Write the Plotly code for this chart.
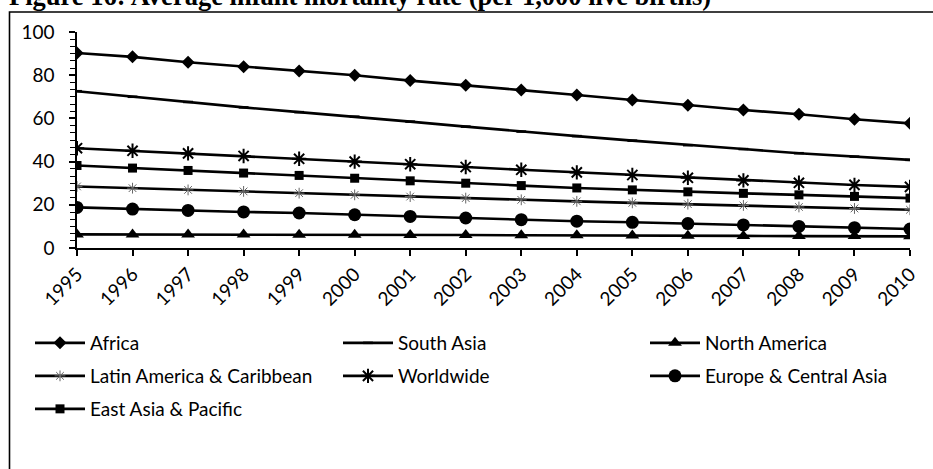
import plotly.graph_objects as go

# Average infant mortality rate (per 1,000 live births), 1995-2010
years = list(range(1995, 2011))
year_labels = [str(y) for y in years]

africa = [90.3, 88.5, 86.0, 83.9, 82.0, 80.0, 77.5, 75.4, 73.1, 70.8, 68.5, 66.1, 63.9, 61.9, 59.6, 57.7]
south_asia = [72.6, 70.0, 67.6, 65.1, 62.9, 60.8, 58.5, 56.2, 53.9, 51.8, 49.7, 47.6, 45.8, 43.9, 42.3, 40.8]
north_america = [6.3, 6.3, 6.2, 6.2, 6.1, 6.1, 6.0, 6.0, 5.9, 5.9, 5.8, 5.7, 5.6, 5.5, 5.5, 5.4]
latin_america = [28.5, 27.7, 26.9, 26.2, 25.4, 24.6, 23.8, 23.1, 22.3, 21.6, 20.9, 20.3, 19.7, 19.0, 18.3, 17.7]
worldwide = [46.2, 45.0, 43.8, 42.6, 41.3, 40.0, 38.8, 37.5, 36.2, 35.0, 33.8, 32.5, 31.3, 30.2, 29.2, 28.3]
europe_central_asia = [18.8, 18.0, 17.4, 16.7, 16.2, 15.4, 14.6, 13.9, 13.1, 12.4, 11.9, 11.3, 10.7, 10.0, 9.4, 8.8]
east_asia_pacific = [38.2, 37.0, 35.9, 34.7, 33.6, 32.3, 31.1, 30.0, 28.9, 27.8, 26.9, 26.0, 25.3, 24.6, 23.9, 23.1]

FONT = "Lato"
W, H = 933, 469
ML, MR, MT, MB = 77, 23, 32, 221
PW, PH = W - ML - MR, H - MT - MB


def px_x(px):
    return (px - ML) / PW


def px_y(py):
    return (H - MB - py) / PH


# legend grid: three columns, three rows under the axis
COLS = [30, 338, 645]
ROWS = [343, 376, 409]

series = [
    ("Africa", africa, dict(symbol="diamond", size=10, color="black"), (0, 0)),
    ("South Asia", south_asia, dict(symbol="line-ew-open", size=7, color="black",
                                     line=dict(width=2.5, color="black")), (1, 0)),
    ("North America", north_america, dict(symbol="triangle-up", size=12, color="black"), (2, 0)),
    ("Latin America & Caribbean", latin_america, dict(symbol="asterisk-open", size=9, color="#666",
                                                      line=dict(width=1, color="#666")), (0, 1)),
    ("Worldwide", worldwide, dict(symbol="asterisk-open", size=12, color="black",
                                  line=dict(width=2, color="black")), (1, 1)),
    ("Europe & Central Asia", europe_central_asia, dict(symbol="circle", size=13, color="black"), (2, 1)),
    ("East Asia & Pacific", east_asia_pacific, dict(symbol="square", size=9, color="black"), (0, 2)),
]

fig = go.Figure()
legends = {}
for i, (name, vals, marker, (col, row)) in enumerate(series):
    key = "legend" if i == 0 else f"legend{i + 1}"
    fig.add_trace(go.Scatter(
        x=years, y=vals, name=name, mode="lines+markers",
        line=dict(color="black", width=2.6),
        marker=marker, legend=key,
    ))
    legends[key] = dict(
        orientation="h", xanchor="left", yanchor="middle",
        x=px_x(COLS[col]), y=px_y(ROWS[row]),
        font=dict(family=FONT, size=19, color="black"),
        itemwidth=50, bgcolor="rgba(0,0,0,0)",
    )

fig.update_layout(
    width=W, height=H,
    margin=dict(l=ML, r=MR, t=MT, b=MB, pad=0),
    paper_bgcolor="white", plot_bgcolor="white",
    font=dict(family=FONT, size=19, color="black"),
    showlegend=True,
    xaxis=dict(
        range=[1995, 2010], tickmode="array", tickvals=years, ticktext=year_labels,
        tickangle=-45, showgrid=False, zeroline=False,
        showline=True, linecolor="black", linewidth=1.5,
        ticks="outside", ticklen=6, tickwidth=1.5, tickcolor="black",
        tickfont=dict(family=FONT, size=19),
    ),
    yaxis=dict(
        range=[0, 100], dtick=20, showgrid=False, zeroline=False,
        showline=True, linecolor="black", linewidth=1.5,
        ticks="outside", ticklen=6, tickwidth=1.5, tickcolor="black",
        ticklabelstandoff=11,
        minor=dict(dtick=20 / 6, ticks="outside", ticklen=5, tickwidth=1.2, tickcolor="black"),
        tickfont=dict(family=FONT, size=19),
    ),
)
fig.update_layout(**legends)

# Figure frame
fig.add_shape(type="rect", xref="paper", yref="paper",
              x0=px_x(9.5), x1=px_x(960), y0=px_y(520), y1=px_y(12),
              line=dict(color="black", width=1.6), fillcolor="rgba(0,0,0,0)", layer="below")

# Figure caption
fig.add_annotation(
    text="<b>Figure 16: Average infant mortality rate (per 1,000 live births)</b>",
    xref="paper", yref="paper", x=px_x(7), y=px_y(13.5),
    xanchor="left", yanchor="bottom", showarrow=False,
    font=dict(family="Liberation Serif", size=26.5, color="black"),
)

fig.write_html("out.html")
